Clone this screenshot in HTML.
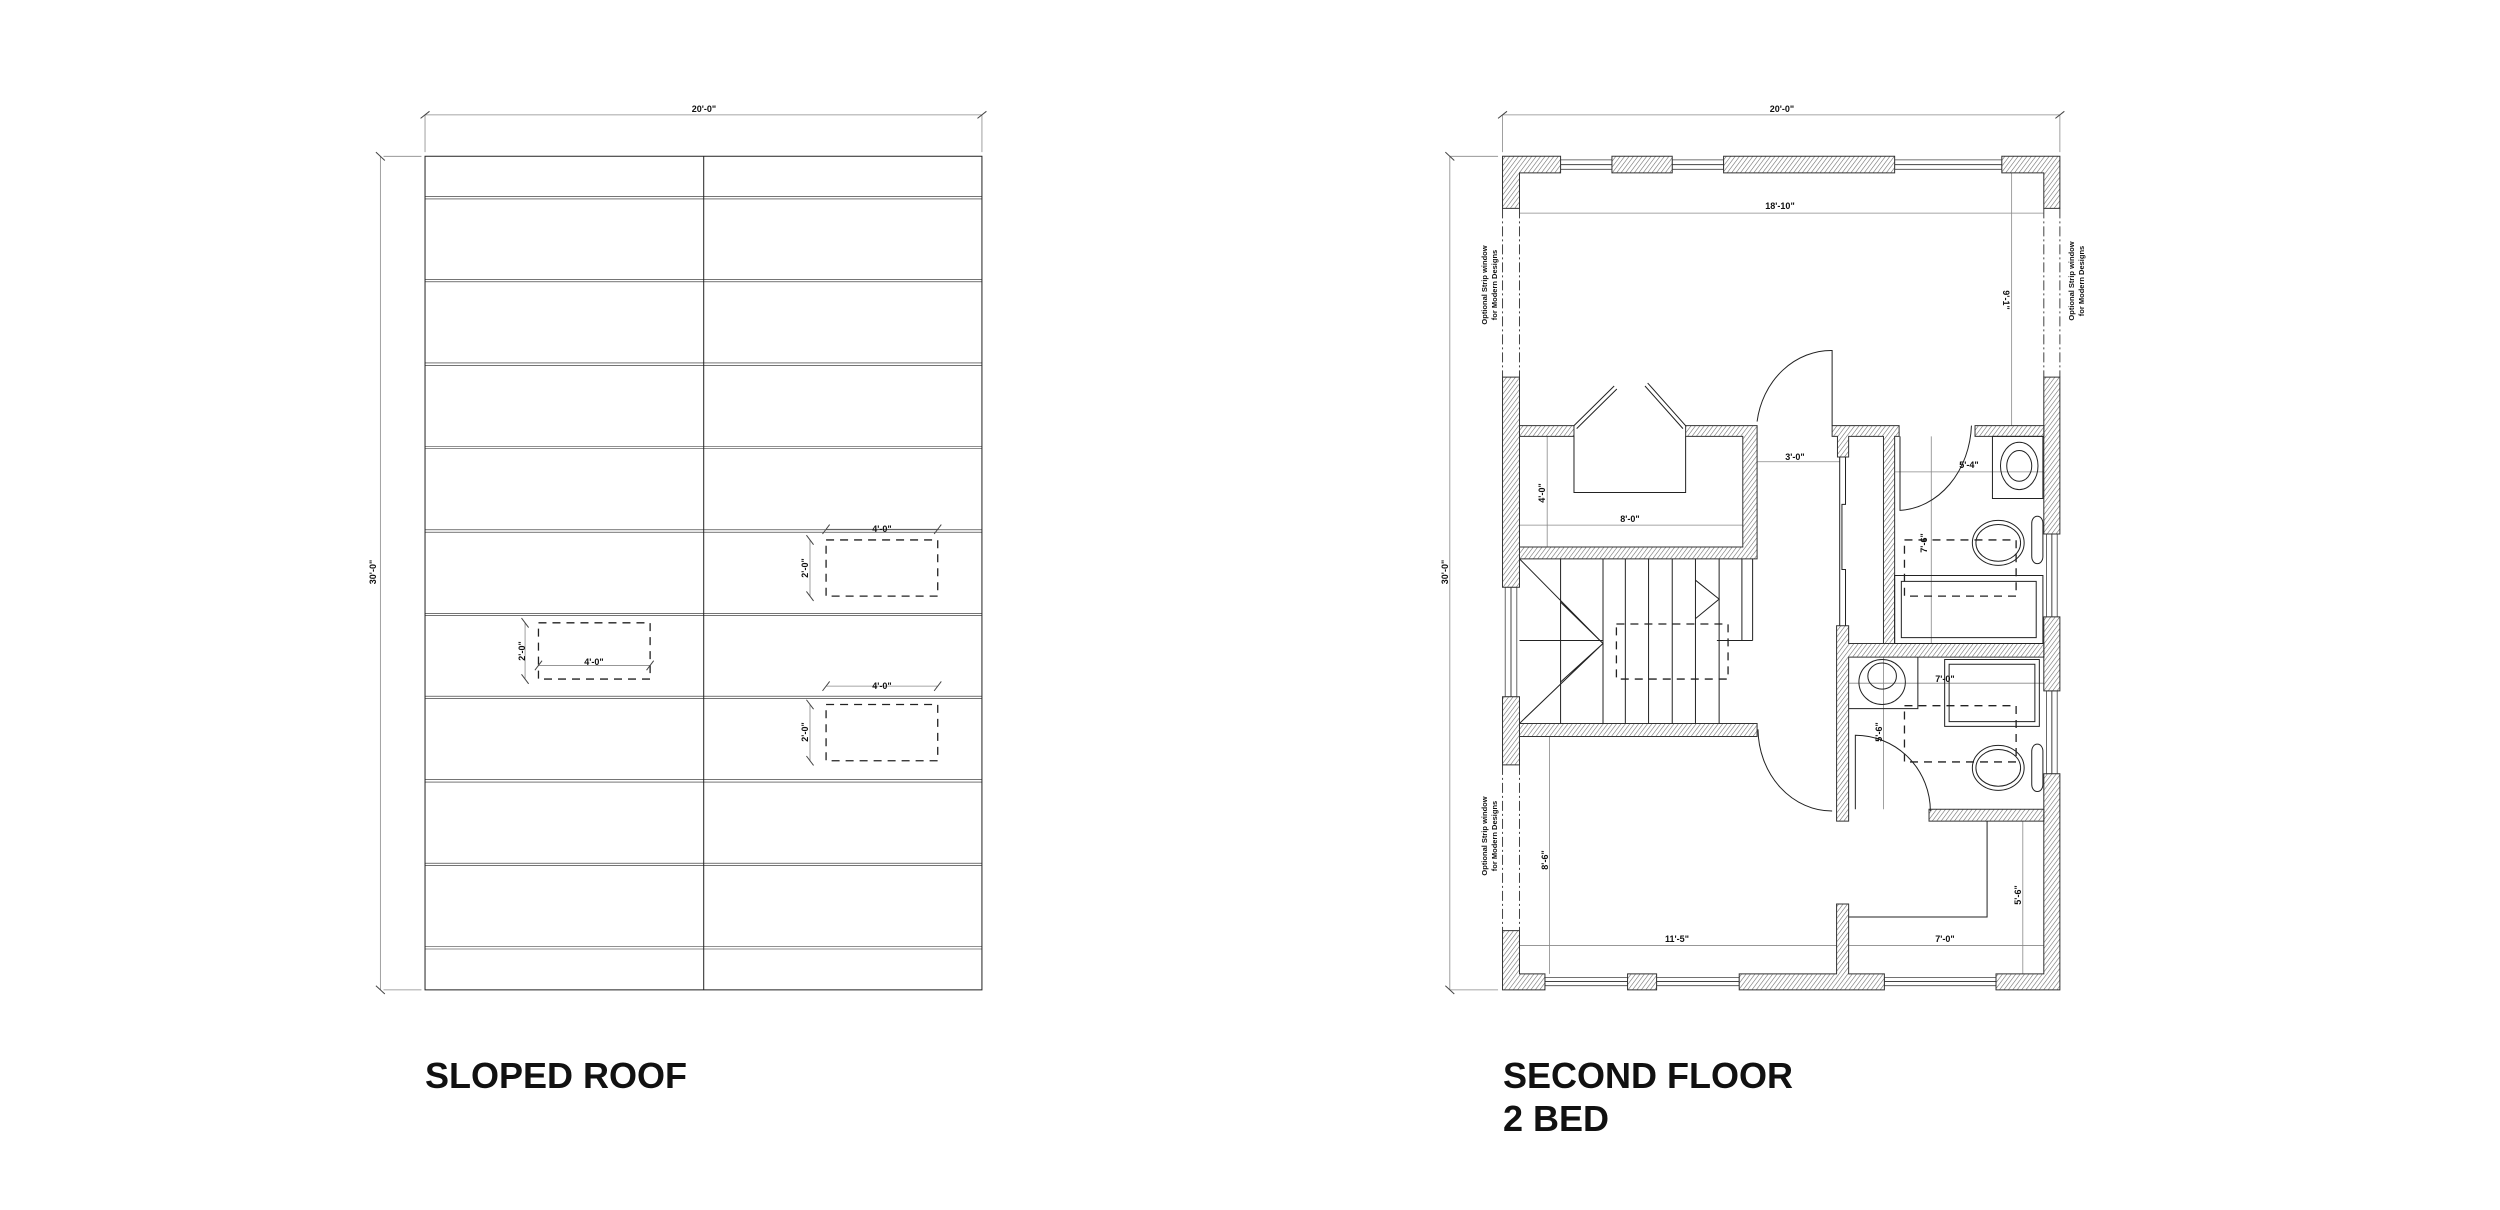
<!DOCTYPE html>
<html><head><meta charset="utf-8"><style>
html,body{margin:0;padding:0;background:#fff;}
svg{display:block}
.l{fill:none;stroke:#222;stroke-width:1;vector-effect:non-scaling-stroke}
.d{fill:none;stroke:#888;stroke-width:0.8;vector-effect:non-scaling-stroke}
.t{fill:none;stroke:#444;stroke-width:1;vector-effect:non-scaling-stroke}
.w{fill:url(#h);stroke:#333;stroke-width:1;vector-effect:non-scaling-stroke}
.win{fill:#fff;stroke:#444;stroke-width:0.8;vector-effect:non-scaling-stroke}
.dash{fill:none;stroke:#222;stroke-width:1.3;stroke-dasharray:8 6;vector-effect:non-scaling-stroke}
.sd{fill:none;stroke:#444;stroke-width:1;stroke-dasharray:10 3 2 3;vector-effect:non-scaling-stroke}
text{font-family:"Liberation Sans",sans-serif;font-weight:bold;fill:#111}
.s{font-size:9px}
.ttl{font-size:36px}
</style></head><body>
<svg width="2500" height="1210" viewBox="0 0 2500 1210" xmlns="http://www.w3.org/2000/svg">
<defs>
<pattern id="h" patternUnits="userSpaceOnUse" width="7" height="7" patternTransform="rotate(45)">
<rect width="7" height="7" fill="#fff"/><line x1="0" y1="0" x2="0" y2="7" stroke="#666" stroke-width="2.2"/>
</pattern>
</defs>

<!-- ROOF -->
<g transform="translate(350,90) scale(0.4466,0.592)">
<line class="d" x1="168" y1="42" x2="1415" y2="42"/>
<line class="d" x1="168" y1="42" x2="168" y2="105"/>
<line class="d" x1="1415" y1="42" x2="1415" y2="105"/>
<line class="t" x1="158" y1="48" x2="178" y2="36"/><line class="t" x1="1405" y1="48" x2="1425" y2="36"/>
<line class="d" x1="68" y1="112" x2="68" y2="1520"/>
<line class="d" x1="75" y1="112" x2="160" y2="112"/>
<line class="d" x1="75" y1="1520" x2="160" y2="1520"/>
<line class="t" x1="58" y1="105" x2="78" y2="119"/><line class="t" x1="58" y1="1513" x2="78" y2="1527"/>
<rect class="l" x="168" y="112" width="1247" height="1408"/>
<line class="l" x1="792" y1="112" x2="792" y2="1520"/>
<g class="l">
<path d="M168 180H1415M168 184H1415M168 320H1415M168 324H1415M168 461H1415M168 465H1415M168 602H1415M168 606H1415M168 743H1415M168 747H1415M168 884H1415M168 888H1415M168 1024H1415M168 1028H1415M168 1165H1415M168 1169H1415M168 1306H1415M168 1310H1415M168 1447H1415M168 1451H1415"/>
</g>
<rect class="dash" x="1066" y="760" width="250" height="95"/>
<rect class="dash" x="422" y="900" width="250" height="95"/>
<rect class="dash" x="1066" y="1038" width="250" height="95"/>
<line class="d" x1="1066" y1="742" x2="1316" y2="742"/>
<line class="t" x1="1058" y1="750" x2="1074" y2="734"/><line class="t" x1="1308" y1="750" x2="1324" y2="734"/>
<line class="d" x1="1030" y1="760" x2="1030" y2="855"/>
<line class="t" x1="1022" y1="752" x2="1038" y2="768"/><line class="t" x1="1022" y1="847" x2="1038" y2="863"/>
<line class="d" x1="422" y1="972" x2="672" y2="972"/>
<line class="t" x1="414" y1="980" x2="430" y2="964"/><line class="t" x1="664" y1="980" x2="680" y2="964"/>
<line class="d" x1="392" y1="900" x2="392" y2="995"/>
<line class="t" x1="384" y1="892" x2="400" y2="908"/><line class="t" x1="384" y1="987" x2="400" y2="1003"/>
<line class="d" x1="1066" y1="1007" x2="1316" y2="1007"/>
<line class="t" x1="1058" y1="1015" x2="1074" y2="999"/><line class="t" x1="1308" y1="1015" x2="1324" y2="999"/>
<line class="d" x1="1030" y1="1038" x2="1030" y2="1133"/>
<line class="t" x1="1022" y1="1030" x2="1038" y2="1046"/><line class="t" x1="1022" y1="1125" x2="1038" y2="1141"/>
</g>
<text class="s" x="704" y="112" text-anchor="middle">20'-0"</text>
<text class="s" transform="translate(376,572) rotate(-90)" text-anchor="middle">30'-0"</text>
<text class="s" x="882" y="532" text-anchor="middle">4'-0"</text>
<text class="s" transform="translate(808,568) rotate(-90)" text-anchor="middle">2'-0"</text>
<text class="s" x="594" y="665" text-anchor="middle">4'-0"</text>
<text class="s" transform="translate(525,651) rotate(-90)" text-anchor="middle">2'-0"</text>
<text class="s" x="882" y="689" text-anchor="middle">4'-0"</text>
<text class="s" transform="translate(808,732) rotate(-90)" text-anchor="middle">2'-0"</text>

<!-- SECOND FLOOR -->
<g transform="translate(1440,90) scale(0.4466,0.592)">
<line class="d" x1="140" y1="42" x2="1388" y2="42"/>
<line class="d" x1="140" y1="42" x2="140" y2="105"/><line class="d" x1="1388" y1="42" x2="1388" y2="105"/>
<line class="t" x1="130" y1="48" x2="150" y2="36"/><line class="t" x1="1378" y1="48" x2="1398" y2="36"/>
<line class="d" x1="22" y1="112" x2="22" y2="1520"/>
<line class="d" x1="22" y1="112" x2="130" y2="112"/><line class="d" x1="22" y1="1520" x2="130" y2="1520"/>
<line class="t" x1="12" y1="105" x2="32" y2="119"/><line class="t" x1="12" y1="1513" x2="32" y2="1527"/>
<line class="d" x1="178" y1="208" x2="1352" y2="208"/>
<line class="d" x1="1280" y1="140" x2="1280" y2="567"/>
<line class="d" x1="700" y1="628" x2="895" y2="628"/>
<line class="d" x1="1018" y1="645" x2="1352" y2="645"/>
<line class="d" x1="240" y1="585" x2="240" y2="772"/>
<line class="d" x1="178" y1="735" x2="678" y2="735"/>
<line class="d" x1="1100" y1="585" x2="1100" y2="940"/>
<line class="d" x1="915" y1="1002" x2="1352" y2="1002"/>
<line class="d" x1="993" y1="958" x2="993" y2="1215"/>
<line class="d" x1="245" y1="1092" x2="245" y2="1493"/>
<line class="d" x1="178" y1="1445" x2="888" y2="1445"/>
<line class="d" x1="915" y1="1445" x2="1352" y2="1445"/>
<line class="d" x1="1305" y1="1235" x2="1305" y2="1493"/>
<path class="sd" d="M140 200V485M178 200V485M140 1140V1420M178 1140V1420M1352 200V485M1388 200V485"/>
<rect class="win" x="270" y="118" width="115" height="16"/><line class="t" x1="270" y1="126" x2="385" y2="126"/>
<rect class="win" x="520" y="118" width="115" height="16"/><line class="t" x1="520" y1="126" x2="635" y2="126"/>
<rect class="win" x="1018" y="118" width="240" height="16"/><line class="t" x1="1018" y1="126" x2="1258" y2="126"/>
<rect class="win" x="146" y="840" width="26" height="185"/><line class="t" x1="159" y1="840" x2="159" y2="1025"/>
<rect class="win" x="1358" y="750" width="24" height="140"/><line class="t" x1="1370" y1="750" x2="1370" y2="890"/>
<rect class="win" x="1358" y="1015" width="24" height="140"/><line class="t" x1="1370" y1="1015" x2="1370" y2="1155"/>
<rect class="win" x="235" y="1499" width="185" height="14"/><line class="t" x1="235" y1="1506" x2="420" y2="1506"/>
<rect class="win" x="485" y="1499" width="185" height="14"/><line class="t" x1="485" y1="1506" x2="670" y2="1506"/>
<rect class="win" x="995" y="1499" width="250" height="14"/><line class="t" x1="995" y1="1506" x2="1245" y2="1506"/>
<path class="w" d="M140 112H270V140H178V200H140Z"/>
<rect class="w" x="385" y="112" width="135" height="28"/>
<rect class="w" x="635" y="112" width="383" height="28"/>
<path class="w" d="M1258 112H1388V200H1352V140H1258Z"/>
<rect class="w" x="140" y="485" width="38" height="355"/>
<rect class="w" x="140" y="1025" width="38" height="115"/>
<path class="w" d="M140 1420H178V1493H235V1520H140Z"/>
<rect class="w" x="1352" y="485" width="36" height="265"/>
<rect class="w" x="1352" y="890" width="36" height="125"/>
<path class="w" d="M1352 1155H1388V1520H1245V1493H1352Z"/>
<rect class="w" x="420" y="1493" width="65" height="27"/>
<path class="w" d="M670 1493H888V1375H915V1493H995V1520H670Z"/>
<rect class="w" x="178" y="567" width="122" height="18"/>
<path class="w" d="M550 567H710V792H178V772H678V585H550Z"/>
<rect class="w" x="178" y="1070" width="532" height="22"/>
<path class="w" d="M878 567H1028V585H1018V940H993V585H915V620H890V585H878Z"/>
<rect class="w" x="1198" y="567" width="154" height="18"/>
<path class="w" d="M888 905H915V935H1352V958H915V1235H888Z"/>
<rect class="w" x="1095" y="1215" width="257" height="20"/>
<path class="l" d="M300 585V680H550V585"/>
<path class="l" d="M300 567L390 500M306 572L396 505M550 567L465 495M544 572L459 500"/>
<path class="l" d="M710 560A168 140 0 0 1 878 440V567"/>
<path class="l" d="M712 1080A166 140 0 0 0 878 1218"/>
<path class="l" d="M895 620V905M908 620V700H900V810H908V905"/>
<path class="l" d="M270 792V1070M365 792V1070M415 792V1070M467 792V1070M520 792V1070M572 792V1070M625 792V1070M676 792V930M700 792V930"/>
<path class="l" d="M178 930H365M620 930H700M178 792L365 935L178 1070M270 865L365 935L270 1000M572 828L625 860L572 893"/>
<rect class="dash" x="395" y="902" width="250" height="93"/>
<path class="l" d="M1030 585V710A168 150 0 0 0 1190 567"/>
<rect class="l" x="1237" y="585" width="113" height="105"/>
<ellipse class="l" cx="1297" cy="635" rx="42" ry="40"/>
<ellipse class="l" cx="1297" cy="635" rx="28" ry="26"/>
<ellipse class="l" cx="1250" cy="765" rx="58" ry="38"/>
<ellipse class="l" cx="1250" cy="765" rx="50" ry="31"/>
<rect class="l" x="1325" y="720" width="25" height="80" rx="12"/>
<rect class="l" x="1018" y="820" width="332" height="115"/>
<rect class="l" x="1033" y="830" width="302" height="95"/>
<rect class="dash" x="1040" y="760" width="250" height="95"/>
<path class="l" d="M915 1045H1070V958"/>
<ellipse class="l" cx="990" cy="1000" rx="52" ry="38"/>
<ellipse class="l" cx="990" cy="990" rx="32" ry="22"/>
<rect class="l" x="1130" y="962" width="212" height="113"/>
<rect class="l" x="1140" y="970" width="192" height="97"/>
<ellipse class="l" cx="1250" cy="1145" rx="58" ry="38"/>
<ellipse class="l" cx="1250" cy="1145" rx="50" ry="31"/>
<rect class="l" x="1325" y="1105" width="25" height="80" rx="12"/>
<rect class="dash" x="1040" y="1040" width="250" height="95"/>
<path class="l" d="M930 1215V1090A168 128 0 0 1 1098 1218"/>
<path class="l" d="M915 1397H1225V1235"/>
</g>
<text class="s" x="1782" y="112" text-anchor="middle">20'-0"</text>
<text class="s" transform="translate(1448,572) rotate(-90)" text-anchor="middle">30'-0"</text>
<text class="s" x="1780" y="209" text-anchor="middle">18'-10"</text>
<text class="s" transform="translate(2003,300) rotate(90)" text-anchor="middle">9'-1"</text>
<text class="s" x="1795" y="460" text-anchor="middle">3'-0"</text>
<text class="s" x="1969" y="468" text-anchor="middle">5'-4"</text>
<text class="s" transform="translate(1545,493) rotate(-90)" text-anchor="middle">4'-0"</text>
<text class="s" x="1630" y="522" text-anchor="middle">8'-0"</text>
<text class="s" transform="translate(1927,543) rotate(-90)" text-anchor="middle">7'-6"</text>
<text class="s" x="1945" y="682" text-anchor="middle">7'-0"</text>
<text class="s" transform="translate(1882,732) rotate(-90)" text-anchor="middle">5'-6"</text>
<text class="s" transform="translate(1548,860) rotate(-90)" text-anchor="middle">8'-6"</text>
<text class="s" x="1677" y="942" text-anchor="middle">11'-5"</text>
<text class="s" x="1945" y="942" text-anchor="middle">7'-0"</text>
<text class="s" transform="translate(2021,895) rotate(-90)" text-anchor="middle">5'-6"</text>
<g style="font-size:7.5px">
<text transform="translate(1487,285) rotate(-90)" text-anchor="middle">Optional Strip window</text>
<text transform="translate(1497,285) rotate(-90)" text-anchor="middle">for Modern Designs</text>
<text transform="translate(1487,836) rotate(-90)" text-anchor="middle">Optional Strip window</text>
<text transform="translate(1497,836) rotate(-90)" text-anchor="middle">for Modern Designs</text>
<text transform="translate(2074,281) rotate(-90)" text-anchor="middle">Optional Strip window</text>
<text transform="translate(2084,281) rotate(-90)" text-anchor="middle">for Modern Designs</text>
</g>

<text class="ttl" x="425" y="1088">SLOPED ROOF</text>
<text class="ttl" x="1503" y="1088">SECOND FLOOR</text>
<text class="ttl" x="1503" y="1131">2 BED</text>
</svg>
</body></html>
